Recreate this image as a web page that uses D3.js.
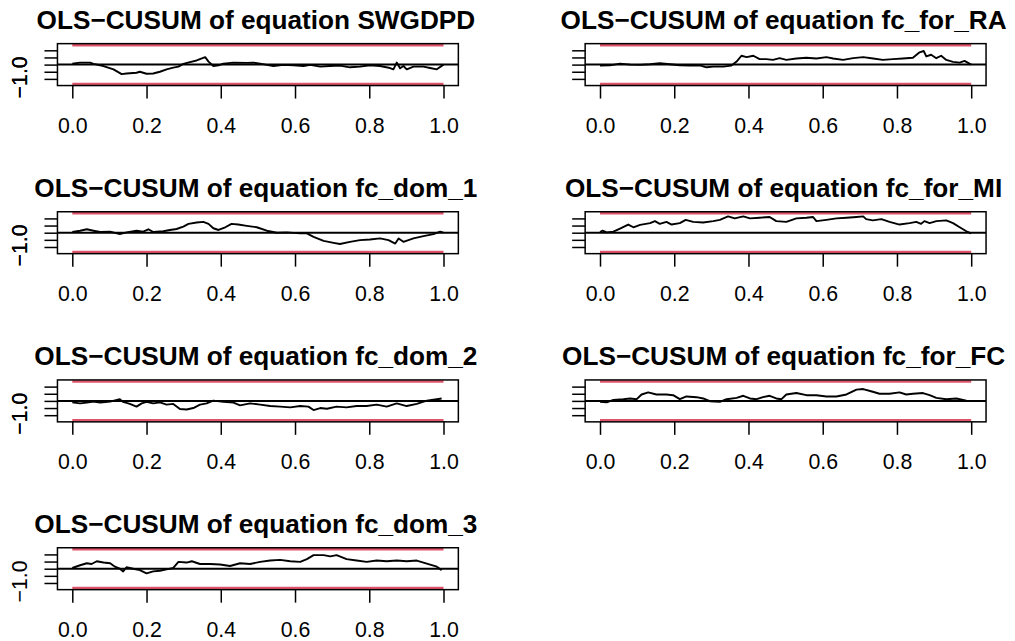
<!DOCTYPE html>
<html>
<head>
<meta charset="utf-8">
<script src="https://cdn.jsdelivr.net/npm/d3@7"></script>
<style>
  html, body { margin: 0; padding: 0; background: #ffffff; }
  svg { display: block; }
  text { font-family: "Liberation Sans", Arial, Helvetica, sans-serif; fill: #000; }
</style>
</head>
<body>
<svg id="chart" width="1015" height="641"></svg>
<script>
// Panel titles, in drawing order (column-wise: left column then right column)
const equations = ["SWGDPD", "fc_dom_1", "fc_dom_2", "fc_dom_3", "fc_for_RA", "fc_for_MI", "fc_for_FC"];

// OLS-CUSUM empirical fluctuation processes: time (fraction of sample) and value
const tSWGDPD = [0,0.021,0.048,0.057,0.084,0.111,0.133,0.146,0.173,0.182,0.2,0.218,0.236,0.254,0.272,0.286,0.299,0.317,0.335,0.358,0.367,0.38,0.394,0.407,0.434,0.47,0.488,0.506,0.524,0.542,0.569,0.596,0.623,0.641,0.668,0.694,0.721,0.748,0.775,0.802,0.829,0.856,0.865,0.874,0.883,0.892,0.901,0.919,0.946,0.964,0.982,1];
const vSWGDPD = [0.07,0.14,0.14,0.05,-0.10,-0.33,-0.67,-0.62,-0.57,-0.50,-0.64,-0.62,-0.50,-0.33,-0.21,-0.14,0.05,0.17,0.29,0.52,0.21,-0.10,-0.05,0.07,0.14,0.12,0.14,0.07,-0.02,-0.10,-0.02,-0.05,-0.10,-0.02,-0.14,-0.10,-0.07,-0.19,-0.14,-0.05,-0.10,-0.24,-0.33,0.14,-0.26,-0.10,-0.33,-0.14,-0.14,-0.24,-0.33,0.00];

const tDom1 = [0,0.021,0.039,0.057,0.075,0.102,0.128,0.146,0.173,0.191,0.205,0.218,0.245,0.263,0.281,0.299,0.313,0.335,0.353,0.367,0.38,0.394,0.412,0.429,0.447,0.47,0.497,0.524,0.551,0.578,0.614,0.632,0.65,0.677,0.704,0.721,0.748,0.775,0.802,0.829,0.852,0.87,0.879,0.892,0.919,0.946,0.973,0.991,1];
const vDom1 = [0.05,0.14,0.24,0.14,0.05,0.07,-0.10,0.02,0.14,0.07,0.24,0.05,0.10,0.19,0.26,0.43,0.62,0.71,0.76,0.62,0.31,0.19,0.38,0.62,0.57,0.48,0.38,0.14,0.00,0.02,-0.05,-0.05,-0.29,-0.57,-0.71,-0.79,-0.64,-0.52,-0.48,-0.40,-0.52,-0.76,-0.40,-0.64,-0.40,-0.24,-0.10,0.07,0.00];

const tDom2 = [0,0.021,0.039,0.057,0.075,0.102,0.128,0.137,0.155,0.173,0.187,0.2,0.218,0.236,0.254,0.272,0.29,0.308,0.326,0.344,0.362,0.38,0.407,0.434,0.452,0.479,0.506,0.533,0.56,0.587,0.614,0.636,0.65,0.668,0.686,0.712,0.739,0.766,0.793,0.82,0.847,0.874,0.901,0.928,0.955,0.982,0.995];
const vDom2 = [-0.10,-0.17,-0.12,-0.05,-0.12,-0.05,0.12,-0.07,-0.21,-0.40,-0.17,-0.07,-0.17,-0.10,-0.26,-0.21,-0.57,-0.60,-0.50,-0.26,-0.17,0.02,-0.07,-0.12,-0.31,-0.17,-0.26,-0.36,-0.40,-0.45,-0.36,-0.40,-0.64,-0.50,-0.55,-0.40,-0.45,-0.36,-0.36,-0.26,-0.40,-0.17,-0.36,-0.21,0.02,0.12,0.17];

const tDom3 = [0,0.021,0.039,0.052,0.066,0.084,0.102,0.115,0.128,0.137,0.146,0.164,0.182,0.2,0.218,0.236,0.254,0.272,0.286,0.308,0.322,0.344,0.371,0.398,0.425,0.452,0.479,0.506,0.533,0.56,0.587,0.614,0.632,0.65,0.677,0.695,0.712,0.739,0.766,0.793,0.82,0.847,0.874,0.901,0.928,0.946,0.964,0.982,0.995];
const vDom3 = [0.05,0.24,0.38,0.33,0.52,0.43,0.38,0.14,0.00,-0.19,0.10,0.00,-0.10,-0.33,-0.19,-0.14,-0.05,0.05,0.48,0.43,0.52,0.33,0.33,0.29,0.19,0.38,0.33,0.48,0.57,0.62,0.52,0.48,0.67,0.95,0.95,0.86,0.95,0.67,0.57,0.48,0.57,0.52,0.57,0.52,0.57,0.43,0.29,0.14,-0.10];

const tForRA = [0,0.027,0.054,0.081,0.108,0.135,0.161,0.188,0.215,0.242,0.269,0.287,0.305,0.332,0.354,0.368,0.381,0.395,0.413,0.43,0.448,0.466,0.484,0.502,0.529,0.556,0.583,0.61,0.628,0.655,0.682,0.709,0.736,0.762,0.789,0.816,0.843,0.861,0.872,0.879,0.892,0.906,0.919,0.933,0.951,0.969,0.982,1];
const vForRA = [-0.07,-0.05,0.07,0.00,-0.02,0.02,0.10,0.02,-0.05,-0.07,-0.05,-0.19,-0.14,-0.14,-0.07,0.21,0.62,0.52,0.62,0.38,0.38,0.33,0.45,0.33,0.43,0.48,0.43,0.52,0.43,0.33,0.45,0.52,0.43,0.33,0.38,0.43,0.48,0.86,0.95,0.57,0.69,0.45,0.62,0.33,0.19,0.14,0.26,0.00];

const tForMI = [0,0.007,0.018,0.036,0.054,0.076,0.09,0.108,0.135,0.148,0.161,0.179,0.193,0.215,0.231,0.251,0.278,0.305,0.323,0.345,0.363,0.386,0.404,0.43,0.457,0.475,0.502,0.529,0.556,0.574,0.583,0.61,0.637,0.664,0.691,0.709,0.717,0.735,0.758,0.78,0.807,0.834,0.852,0.865,0.874,0.888,0.906,0.933,0.951,0.969,0.987,1];
const vForMI = [0.05,0.14,0.02,0.07,0.29,0.57,0.38,0.55,0.67,0.81,0.62,0.76,0.57,0.67,0.90,0.76,0.71,0.81,0.90,1.14,1.00,1.14,1.00,1.05,1.10,0.81,0.76,1.00,1.05,1.10,0.81,0.90,1.00,1.05,1.10,1.14,0.95,0.86,0.95,0.76,0.57,0.67,0.76,0.62,0.81,0.67,0.81,0.86,0.67,0.38,0.10,-0.05];

const tForFC = [0,0.018,0.036,0.063,0.081,0.099,0.112,0.13,0.152,0.179,0.197,0.215,0.233,0.26,0.278,0.296,0.323,0.341,0.368,0.386,0.404,0.422,0.439,0.457,0.475,0.489,0.502,0.529,0.556,0.583,0.61,0.637,0.664,0.691,0.709,0.735,0.753,0.78,0.807,0.825,0.843,0.87,0.888,0.906,0.933,0.96,0.987];
const vForFC = [-0.07,-0.10,0.07,0.12,0.17,0.12,0.45,0.60,0.45,0.45,0.40,0.12,0.31,0.26,0.17,-0.02,-0.07,0.12,0.21,0.36,0.17,0.12,0.26,0.36,0.17,0.12,0.45,0.55,0.40,0.40,0.31,0.31,0.45,0.79,0.83,0.64,0.50,0.50,0.60,0.45,0.50,0.55,0.40,0.21,0.12,0.17,0.02];

const seriesT = [tSWGDPD, tDom1, tDom2, tDom3, tForRA, tForMI, tForFC];
const seriesV = [vSWGDPD, vDom1, vDom2, vDom3, vForRA, vForMI, vForFC];

// 5% critical boundary of the OLS-based CUSUM test
const boundary = 1.358;

// Axis ticks
const xTicks = [0, 0.2, 0.4, 0.6, 0.8, 1.0];
const xTickLabels = ["0.0", "0.2", "0.4", "0.6", "0.8", "1.0"];
const yTicks = [-1, -0.5, 0, 0.5, 1];
const yTickLabels = ["\u22121.0", "", "", "", ""];

// ---- layout ----
const svg = d3.select("#chart");
const colX = [72.3, 600];          // pixel position of t = 0 in each column
const colW = 371.2;                // pixel width of the 0..1 span
const rowZero = [64.6, 232.7, 400.9, 568.7];  // pixel y of the zero line per row
const halfH = 19.4;                // pixel half-height of the ±boundary span
const red = "#DF536B";

const lineGen = d3.line();

equations.forEach((name, i) => {
  const col = i < 4 ? 0 : 1;
  const row = i < 4 ? i : i - 4;

  const x = d3.scaleLinear().domain([0, 1]).range([colX[col], colX[col] + colW]);
  const y = d3.scaleLinear().domain([-boundary, boundary])
    .range([rowZero[row] + halfH, rowZero[row] - halfH]);

  // plotting region with R-style 4% padding
  const padX = colW * 0.04, padY = 2 * halfH * 0.04;
  const x0 = x.range()[0] - padX, x1 = x.range()[1] + padX;
  const y0 = y.range()[1] - padY, y1 = y.range()[0] + padY;

  const g = svg.append("g");

  // title
  g.append("text")
    .attr("x", (x0 + x1) / 2 - 2)
    .attr("y", rowZero[row] - 36)
    .attr("text-anchor", "middle")
    .style("font-size", "26.2px")
    .style("font-weight", "bold")
    .text("OLS\u2212CUSUM of equation " + name);

  // boundaries
  [boundary, -boundary].forEach(b => {
    g.append("line")
      .attr("x1", x(0)).attr("x2", x(1))
      .attr("y1", y(b)).attr("y2", y(b))
      .attr("stroke", red).attr("stroke-width", 2.6);
  });

  // zero reference line across the plotting region
  g.append("line")
    .attr("x1", x0).attr("x2", x1)
    .attr("y1", y(0)).attr("y2", y(0))
    .attr("stroke", "#000").attr("stroke-width", 2);

  // fluctuation process
  const pts = seriesT[i].map((t, k) => [x(t), y(seriesV[i][k])]);
  g.append("path")
    .attr("d", lineGen(pts))
    .attr("fill", "none")
    .attr("stroke", "#000")
    .attr("stroke-width", 1.9)
    .attr("stroke-linejoin", "round");

  // box
  g.append("rect")
    .attr("x", x0).attr("y", y0)
    .attr("width", x1 - x0).attr("height", y1 - y0)
    .attr("fill", "none").attr("stroke", "#000").attr("stroke-width", 1.5);

  // x axis
  const xAxis = d3.axisBottom(x)
    .tickValues(xTicks)
    .tickFormat((d, k) => xTickLabels[k])
    .tickSize(13);
  const gx = g.append("g").attr("transform", `translate(0,${y1})`).call(xAxis);
  gx.select(".domain").remove();
  gx.selectAll(".tick line").attr("stroke", "#000").attr("stroke-width", 1.5);
  gx.selectAll(".tick text")
    .attr("y", null).attr("dy", null)
    .attr("transform", "translate(0,47.5)")
    .style("font-size", "21.3px")
    .style("font-family", "'Liberation Sans', Arial, sans-serif");

  // y axis
  const yAxis = d3.axisLeft(y)
    .tickValues(yTicks)
    .tickFormat((d, k) => yTickLabels[k])
    .tickSize(13);
  const gy = g.append("g").attr("transform", `translate(${x0},0)`).call(yAxis);
  gy.select(".domain").remove();
  gy.selectAll(".tick line").attr("stroke", "#000").attr("stroke-width", 1.5);
  gy.selectAll(".tick text")
    .attr("x", null).attr("dy", null)
    .attr("text-anchor", "middle")
    .attr("transform", `translate(${-(x0 - 27.3)},-2) rotate(-90)`)
    .style("font-size", "21.3px")
    .style("font-family", "'Liberation Sans', Arial, sans-serif");
});
</script>
</body>
</html>
